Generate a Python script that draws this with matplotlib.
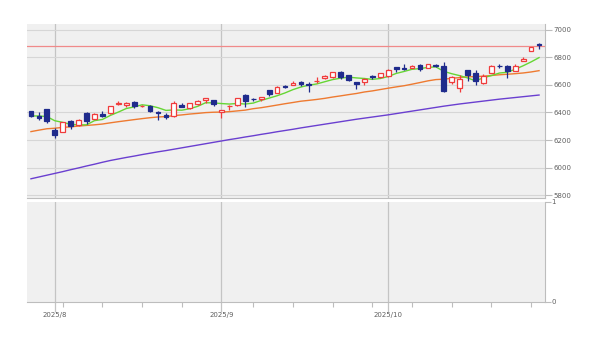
import numpy as np
import pandas as pd
import matplotlib
matplotlib.use("Agg")
import matplotlib.pyplot as plt

# Trading sessions (US market, Labor Day closed)
dates = pd.bdate_range("2025-07-29", "2025-10-28", freq="C", holidays=["2025-09-01"])

opens = [6409, 6373, 6427, 6271, 6260, 6336, 6309, 6394, 6354, 6389,
         6397, 6462, 6453, 6478, 6446, 6446, 6405, 6382, 6371, 6457,
         6436, 6459, 6491, 6492, 6401, 6445, 6456, 6529, 6499, 6498,
         6560, 6545, 6590, 6600, 6623, 6606, 6627, 6653, 6655, 6694,
         6676, 6619, 6620, 6662, 6661, 6665, 6731, 6723, 6727, 6747,
         6723, 6746, 6740, 6625, 6578, 6706, 6687, 6617, 6689, 6737,
         6741, 6704, 6775, 6845, 6896]
highs = [6410, 6401, 6427, 6288, 6330, 6345, 6352, 6402, 6395, 6410,
         6446, 6481, 6473, 6482, 6455, 6456, 6408, 6393, 6481, 6466,
         6468, 6489, 6508, 6493, 6416, 6453, 6502, 6532, 6507, 6513,
         6563, 6592, 6600, 6626, 6627, 6623, 6656, 6671, 6695, 6700,
         6676, 6619, 6650, 6675, 6689, 6718, 6731, 6751, 6749, 6752,
         6754, 6755, 6764, 6666, 6672, 6711, 6709, 6681, 6745, 6752,
         6744, 6751, 6807, 6876, 6902]
lows = [6365, 6343, 6327, 6212, 6260, 6283, 6301, 6317, 6350, 6364,
        6386, 6451, 6441, 6436, 6437, 6400, 6343, 6355, 6370, 6438,
        6429, 6454, 6467, 6444, 6360, 6418, 6445, 6443, 6481, 6485,
        6522, 6545, 6577, 6600, 6596, 6551, 6615, 6647, 6651, 6643,
        6626, 6569, 6600, 6643, 6651, 6657, 6694, 6706, 6726, 6700,
        6723, 6728, 6550, 6605, 6551, 6629, 6602, 6605, 6689, 6721,
        6654, 6704, 6775, 6845, 6861]
closes = [6371, 6363, 6339, 6238, 6330, 6299, 6345, 6340, 6389, 6373,
          6446, 6467, 6469, 6450, 6449, 6411, 6396, 6370, 6467, 6439,
          6466, 6481, 6502, 6460, 6416, 6448, 6502, 6482, 6495, 6513,
          6532, 6587, 6584, 6615, 6607, 6600, 6632, 6664, 6694, 6657,
          6638, 6605, 6644, 6661, 6688, 6711, 6715, 6716, 6740, 6715,
          6754, 6735, 6553, 6655, 6644, 6671, 6629, 6664, 6735, 6735,
          6699, 6738, 6792, 6875, 6891]

# Moving averages (5, 25 and 75 sessions)
ma5 = [6374.3, 6375.1, 6370.3, 6340.2, 6328.2, 6313.9, 6310.3, 6310.4, 6340.7, 6349.4,
       6378.7, 6403.0, 6428.8, 6440.8, 6456.0, 6449.1, 6434.9, 6415.3, 6418.7, 6416.7,
       6427.6, 6444.7, 6471.1, 6469.8, 6465.0, 6461.5, 6465.6, 6461.5, 6468.5, 6487.9,
       6504.7, 6521.8, 6542.3, 6566.3, 6585.2, 6598.8, 6607.7, 6623.7, 6639.4, 6649.5,
       6657.0, 6651.5, 6647.4, 6640.9, 6647.2, 6661.9, 6684.0, 6698.4, 6714.2, 6719.4,
       6727.9, 6731.9, 6699.2, 6682.1, 6668.1, 6651.5, 6630.3, 6652.6, 6668.7, 6686.9,
       6692.6, 6714.5, 6740.0, 6768.0, 6799.1]
ma25 = [6261.0, 6271.8, 6281.7, 6285.6, 6291.8, 6295.6, 6301.5, 6306.0, 6310.4, 6316.1,
        6324.9, 6333.1, 6340.6, 6348.2, 6355.4, 6362.1, 6367.4, 6370.3, 6377.1, 6382.5,
        6388.7, 6393.6, 6399.2, 6402.0, 6403.1, 6406.2, 6411.7, 6417.4, 6427.7, 6435.0,
        6444.3, 6454.0, 6463.8, 6472.8, 6482.2, 6488.3, 6495.0, 6502.8, 6512.5, 6520.9,
        6529.9, 6538.3, 6549.2, 6557.0, 6567.0, 6576.8, 6586.1, 6594.7, 6605.9, 6617.8,
        6630.1, 6639.4, 6642.2, 6648.6, 6653.9, 6659.4, 6661.1, 6664.3, 6669.1, 6674.2,
        6678.2, 6682.4, 6687.5, 6694.8, 6704.2]
ma75 = [5918, 5931, 5944, 5957, 5970, 5984, 5997, 6011, 6024, 6038,
        6051, 6062, 6073, 6083, 6094, 6104, 6114, 6123, 6133, 6143,
        6153, 6163, 6173, 6183, 6193, 6203, 6212, 6222, 6231, 6241,
        6250, 6260, 6269, 6278, 6288, 6297, 6306, 6315, 6324, 6333,
        6342, 6351, 6359, 6367, 6375, 6383, 6392, 6401, 6410, 6419,
        6428, 6437, 6446, 6454, 6462, 6469, 6476, 6483, 6490, 6497,
        6503, 6509, 6515, 6521, 6527]

ref_level = 6881
price_ticks = [5800, 6000, 6200, 6400, 6600, 6800, 7000]
sub_ticks = [0, 1]

UP = "#f03c3c"
DOWN = "#1f2b8c"
BG = "#f0f0f0"
AXC = "#bdbdbd"
TXT = "#606060"

W, H = 600, 339
fig = plt.figure(figsize=(W / 100, H / 100), dpi=100)
fig.patch.set_facecolor("white")

def frac(x0, y0, x1, y1):
    return [x0 / W, 1 - y1 / H, (x1 - x0) / W, (y1 - y0) / H]

ax = fig.add_axes(frac(27, 24, 545, 198))
ax2 = fig.add_axes(frac(27, 202, 545, 302), sharex=ax)

x = np.arange(len(dates))
o = np.array(opens, float)
h = np.array(highs, float)
l = np.array(lows, float)
c = np.array(closes, float)
up = c >= o

for a in (ax, ax2):
    a.set_facecolor(BG)
    for s in ("left", "top"):
        a.spines[s].set_visible(False)
    for s in ("right", "bottom"):
        a.spines[s].set_color(AXC)
        a.spines[s].set_linewidth(0.8)

# month separators
month_idx = [i for i in range(len(dates)) if i == 0 or dates[i].month != dates[i - 1].month]
month_idx = [i for i in month_idx if dates[i].day <= 3]
week_idx = [i for i in range(1, len(dates)) if dates[i].isocalendar()[1] != dates[i - 1].isocalendar()[1]]

for a in (ax, ax2):
    for i in month_idx:
        a.axvline(i, color="#c4c4c4", lw=0.9, zorder=1)

ax.set_ylim(5778.2, 7043.6)
ax.set_yticks(price_ticks)
ax.yaxis.tick_right()
ax.grid(axis="y", color="#d6d6d6", lw=0.8, zorder=0)
ax.tick_params(axis="y", length=5, width=0.8, color=AXC, labelsize=5, labelcolor=TXT, pad=0.8)
ax.tick_params(axis="x", which="both", length=0, labelbottom=False)

# reference level
ax.axhline(ref_level, color="#f08a8a", lw=0.9, zorder=2)

# moving averages
ax.plot(x, ma75, color="#6a3fd0", lw=1.0, zorder=3)
ax.plot(x, ma25, color="#ee7a30", lw=1.0, zorder=3)
ax.plot(x, ma5, color="#66d634", lw=1.0, zorder=3)

# candlesticks
bw = 0.6
for i in range(len(x)):
    col = UP if up[i] else DOWN
    ax.vlines(x[i], l[i], h[i], color=col, lw=0.9, zorder=4)
    lo, hi = min(o[i], c[i]), max(o[i], c[i])
    height = max(hi - lo, 1.0)
    ax.bar(x[i], height, bottom=lo, width=bw,
           facecolor="white" if up[i] else DOWN, edgecolor=col, lw=0.9, zorder=5)

ax.set_xlim(-0.5, len(x) - 0.25)

# lower panel
ax2.set_ylim(0, 1)
ax2.set_yticks(sub_ticks)
ax2.yaxis.tick_right()
ax2.tick_params(axis="y", length=4, width=0.8, color=AXC, labelsize=5, labelcolor=TXT, pad=0.8)
ax2.set_xticks(month_idx)
ax2.set_xticklabels([f"{dates[i].year}/{dates[i].month}" for i in month_idx])
ax2.set_xticks([i for i in week_idx if i not in month_idx], minor=True)
ax2.tick_params(axis="x", which="major", length=7, width=0.9, color="#c4c4c4",
                labelsize=5, labelcolor=TXT, pad=0.5)
ax2.tick_params(axis="x", which="minor", length=3.5, width=0.8, color=AXC)

fig.savefig("out.png", dpi=100, facecolor="white")
